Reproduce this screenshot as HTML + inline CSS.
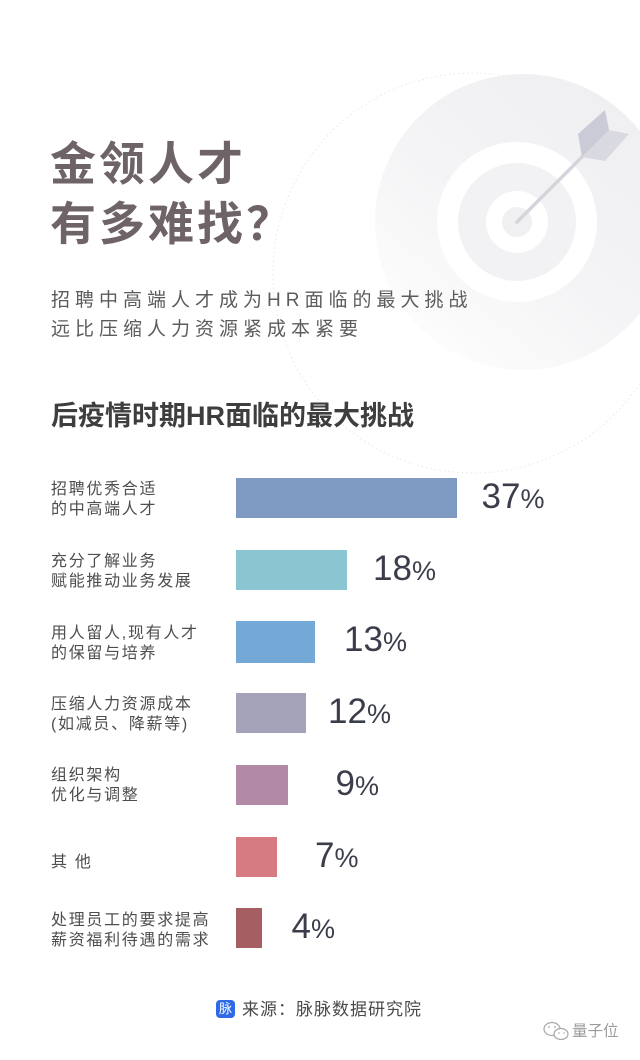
<!DOCTYPE html>
<html>
<head>
<meta charset="utf-8">
<style>
  html,body{margin:0;padding:0;}
  body{width:640px;height:1060px;position:relative;overflow:hidden;background:#ffffff;}
  .t{position:absolute;white-space:nowrap;font-family:"Liberation Sans","Noto Sans CJK SC",sans-serif;}
  .title{font-size:46px;line-height:46px;letter-spacing:3px;font-weight:700;color:#6e6366;left:50px;}
  .sub{font-size:19px;line-height:19px;letter-spacing:5px;color:#5c5c5c;left:51px;}
  .head{font-size:27px;line-height:27px;font-weight:700;color:#3e3e3e;left:51px;}
  .lab{font-size:16px;line-height:20px;letter-spacing:1.7px;color:#4e4e4e;left:51px;}
  .bar{position:absolute;left:236px;height:40px;}
  .pct{font-size:35px;line-height:35px;color:#3b3e4a;}
  .pct span{font-size:27px;}
  svg{position:absolute;left:0;top:0;}
</style>
</head>
<body>
<svg width="640" height="1060" viewBox="0 0 640 1060">
  <defs>
    <linearGradient id="bg" x1="0.85" y1="0.1" x2="0.2" y2="0.9">
      <stop offset="0" stop-color="#efeff1"/>
      <stop offset="0.55" stop-color="#f4f4f6"/>
      <stop offset="1" stop-color="#fcfcfc"/>
    </linearGradient>
  </defs>
  <circle cx="473" cy="273" r="200" fill="none" stroke="#e8e8e8" stroke-width="1" stroke-dasharray="1.5 3"/>
  <circle cx="523" cy="222" r="148" fill="url(#bg)"/>
  <circle cx="517" cy="222" r="80" fill="#ffffff"/>
  <circle cx="517" cy="222" r="59" fill="#f2f2f4"/>
  <circle cx="517" cy="222" r="31" fill="#ffffff"/>
  <circle cx="517" cy="222" r="15" fill="#f0f0f2"/>
  <line x1="517" y1="222" x2="600" y2="139" stroke="#d4d4dc" stroke-width="3.5" stroke-linecap="round"/>
  <polygon points="582,157 578,134 605,110 609,130" fill="#cbcbd7"/>
  <polygon points="582,157 605,161 629,134 609,130" fill="#d9d9e2"/>
  <!-- wechat icon -->
  <g fill="none" stroke="#a8a8a8" stroke-width="1.2">
    <ellipse cx="552" cy="1029" rx="8" ry="6.5"/>
    <ellipse cx="561" cy="1034" rx="7" ry="5.5" fill="#ffffff"/>
  </g>
  <circle cx="549" cy="1027" r="0.9" fill="#a8a8a8"/>
  <circle cx="555" cy="1027" r="0.9" fill="#a8a8a8"/>
  <circle cx="559" cy="1033" r="0.8" fill="#a8a8a8"/>
  <circle cx="564" cy="1033" r="0.8" fill="#a8a8a8"/>
</svg>

<div class="t title" style="top:141px;">金领人才</div>
<div class="t title" style="top:201px;">有多难找？</div>

<div class="t sub" style="top:291.4px;">招聘中高端人才成为HR面临的最大挑战</div>
<div class="t sub" style="top:319.7px;">远比压缩人力资源紧成本紧要</div>

<div class="t head" style="top:402.5px;">后疫情时期HR面临的最大挑战</div>

<!-- row 1 -->
<div class="t lab" style="top:480.4px;">招聘优秀合适<br>的中高端人才</div>
<div class="bar" style="top:478px;width:221px;background:#7e99c2;"></div>
<div class="t pct" style="top:478.5px;left:481.5px;">37<span>%</span></div>

<!-- row 2 -->
<div class="t lab" style="top:552.2px;">充分了解业务<br>赋能推动业务发展</div>
<div class="bar" style="top:550px;width:111px;background:#8ac5d1;"></div>
<div class="t pct" style="top:550.5px;left:373px;">18<span>%</span></div>

<!-- row 3 -->
<div class="t lab" style="top:623.5px;">用人留人,现有人才<br>的保留与培养</div>
<div class="bar" style="top:621px;width:79px;height:42px;background:#73a8d7;"></div>
<div class="t pct" style="top:622px;left:344px;">13<span>%</span></div>

<!-- row 4 -->
<div class="t lab" style="top:694.5px;">压缩人力资源成本<br>(如减员、降薪等)</div>
<div class="bar" style="top:693px;width:70px;background:#a4a3b9;"></div>
<div class="t pct" style="top:693.5px;left:328px;">12<span>%</span></div>

<!-- row 5 -->
<div class="t lab" style="top:766.2px;">组织架构<br>优化与调整</div>
<div class="bar" style="top:765px;width:52px;background:#b28aa5;"></div>
<div class="t pct" style="top:765.5px;left:335.5px;">9<span>%</span></div>

<!-- row 6 -->
<div class="t lab" style="top:852.5px;">其 他</div>
<div class="bar" style="top:837px;width:41px;background:#d67b81;"></div>
<div class="t pct" style="top:837.5px;left:315px;">7<span>%</span></div>

<!-- row 7 -->
<div class="t lab" style="top:911px;">处理员工的要求提高<br>薪资福利待遇的需求</div>
<div class="bar" style="top:908px;width:26px;background:#a55f63;"></div>
<div class="t pct" style="top:908.5px;left:291.5px;">4<span>%</span></div>

<!-- footer -->
<div class="t" style="left:216px;top:1000px;width:19px;height:18px;background:#2e6ae8;border-radius:4px;color:#ffffff;font-size:13px;line-height:18px;text-align:center;">脉</div>
<div class="t" style="left:242px;top:1000.5px;font-size:17px;line-height:17px;letter-spacing:1px;color:#4a4a4a;">来源：脉脉数据研究院</div>
<div class="t" style="left:572px;top:1023.5px;font-size:15.5px;line-height:15.5px;color:#9c9c9c;">量子位</div>
</body>
</html>
